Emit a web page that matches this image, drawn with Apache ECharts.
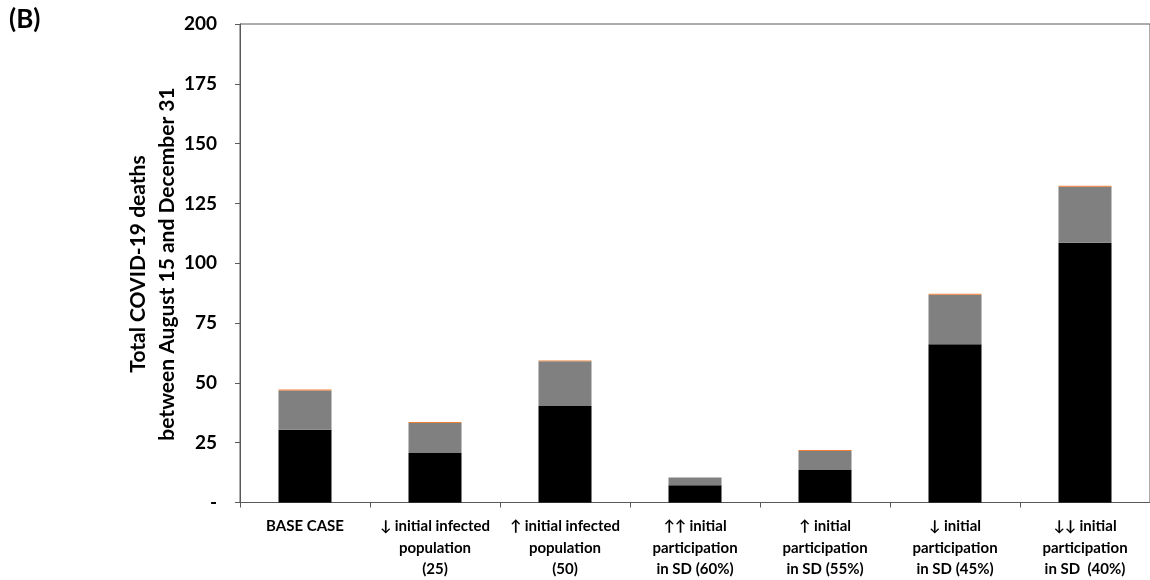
<!DOCTYPE html>
<html><head><meta charset="utf-8">
<script src="https://cdn.jsdelivr.net/npm/echarts@6/dist/echarts.min.js"></script>
<style>html,body{margin:0;padding:0;background:#fff}#c{width:1150px;height:580px}</style>
</head><body><div id="c"></div>
<script>
const categories = [
  "BASE CASE",
  "↓ initial infected\npopulation\n(25)",
  "↑ initial infected\npopulation\n(50)",
  "↑↑ initial\nparticipation\nin SD (60%)",
  "↑ initial\nparticipation\nin SD (55%)",
  "↓ initial\nparticipation\nin SD (45%)",
  "↓↓ initial\nparticipation\nin SD  (40%)"
];
const blackValues = [30.4, 20.7, 40.3, 7.2, 13.6, 66.1, 108.6];
const grayValues  = [16.4, 12.5, 18.7, 3.2, 7.9, 20.7, 23.4];
const orangeValues = [0.4, 0.4, 0.4, 0.1, 0.4, 0.4, 0.4];
const yTicks = [0, 25, 50, 75, 100, 125, 150, 175, 200];
const titleLines = ["Total COVID-19 deaths", "between August 15 and December 31"];

const FONT = 'Lato, "Open Sans", sans-serif';
const chart = echarts.init(document.getElementById('c'));
chart.setOption({
  animation: false,
  backgroundColor: '#fff',
  grid: {left: 240, top: 24, width: 917, height: 480, show: true, borderColor: '#595959', borderWidth: 1, backgroundColor: 'transparent'},
  graphic: [
    {type: 'text', left: 9, top: 7, style: {text: '(B)', font: 'bold 26px ' + FONT, fill: '#000'}},
    {type: 'text', x: 138, y: 264, rotation: Math.PI / 2, style: {text: titleLines[0], font: 'bold 21px ' + FONT, fill: '#000', align: 'center', verticalAlign: 'middle'}},
    {type: 'text', x: 167, y: 264, rotation: Math.PI / 2, style: {text: titleLines[1], font: 'bold 21px ' + FONT, fill: '#000', align: 'center', verticalAlign: 'middle'}}
  ],
  xAxis: {
    type: 'category', data: categories,
    axisLine: {lineStyle: {color: '#595959', width: 1}},
    axisTick: {show: true, length: 5, inside: false, alignWithLabel: false, lineStyle: {color: '#595959'}},
    axisLabel: {interval: 0, color: '#000', fontFamily: FONT, fontWeight: 'bold', fontSize: 15, lineHeight: 21.5, margin: 13, align: 'center'}
  },
  yAxis: {
    type: 'value', min: 0, max: 200, interval: 25,
    axisLine: {show: true, lineStyle: {color: '#595959', width: 1}},
    axisTick: {show: true, length: 5, lineStyle: {color: '#595959'}},
    splitLine: {show: false},
    axisLabel: {color: '#000', fontFamily: FONT, fontWeight: 'bold', fontSize: 19, margin: 23,
      formatter: v => yTicks.includes(v) ? (v === 0 ? '-' : String(v)) : ''}
  },
  series: [
    {type: 'bar', stack: 't', data: blackValues, barWidth: 53, itemStyle: {color: '#000'}},
    {type: 'bar', stack: 't', data: grayValues, barWidth: 53, itemStyle: {color: '#808080'}},
    {type: 'bar', stack: 't', data: orangeValues, barWidth: 53, itemStyle: {color: '#ED7D31'}}
  ]
});
</script></body></html>
